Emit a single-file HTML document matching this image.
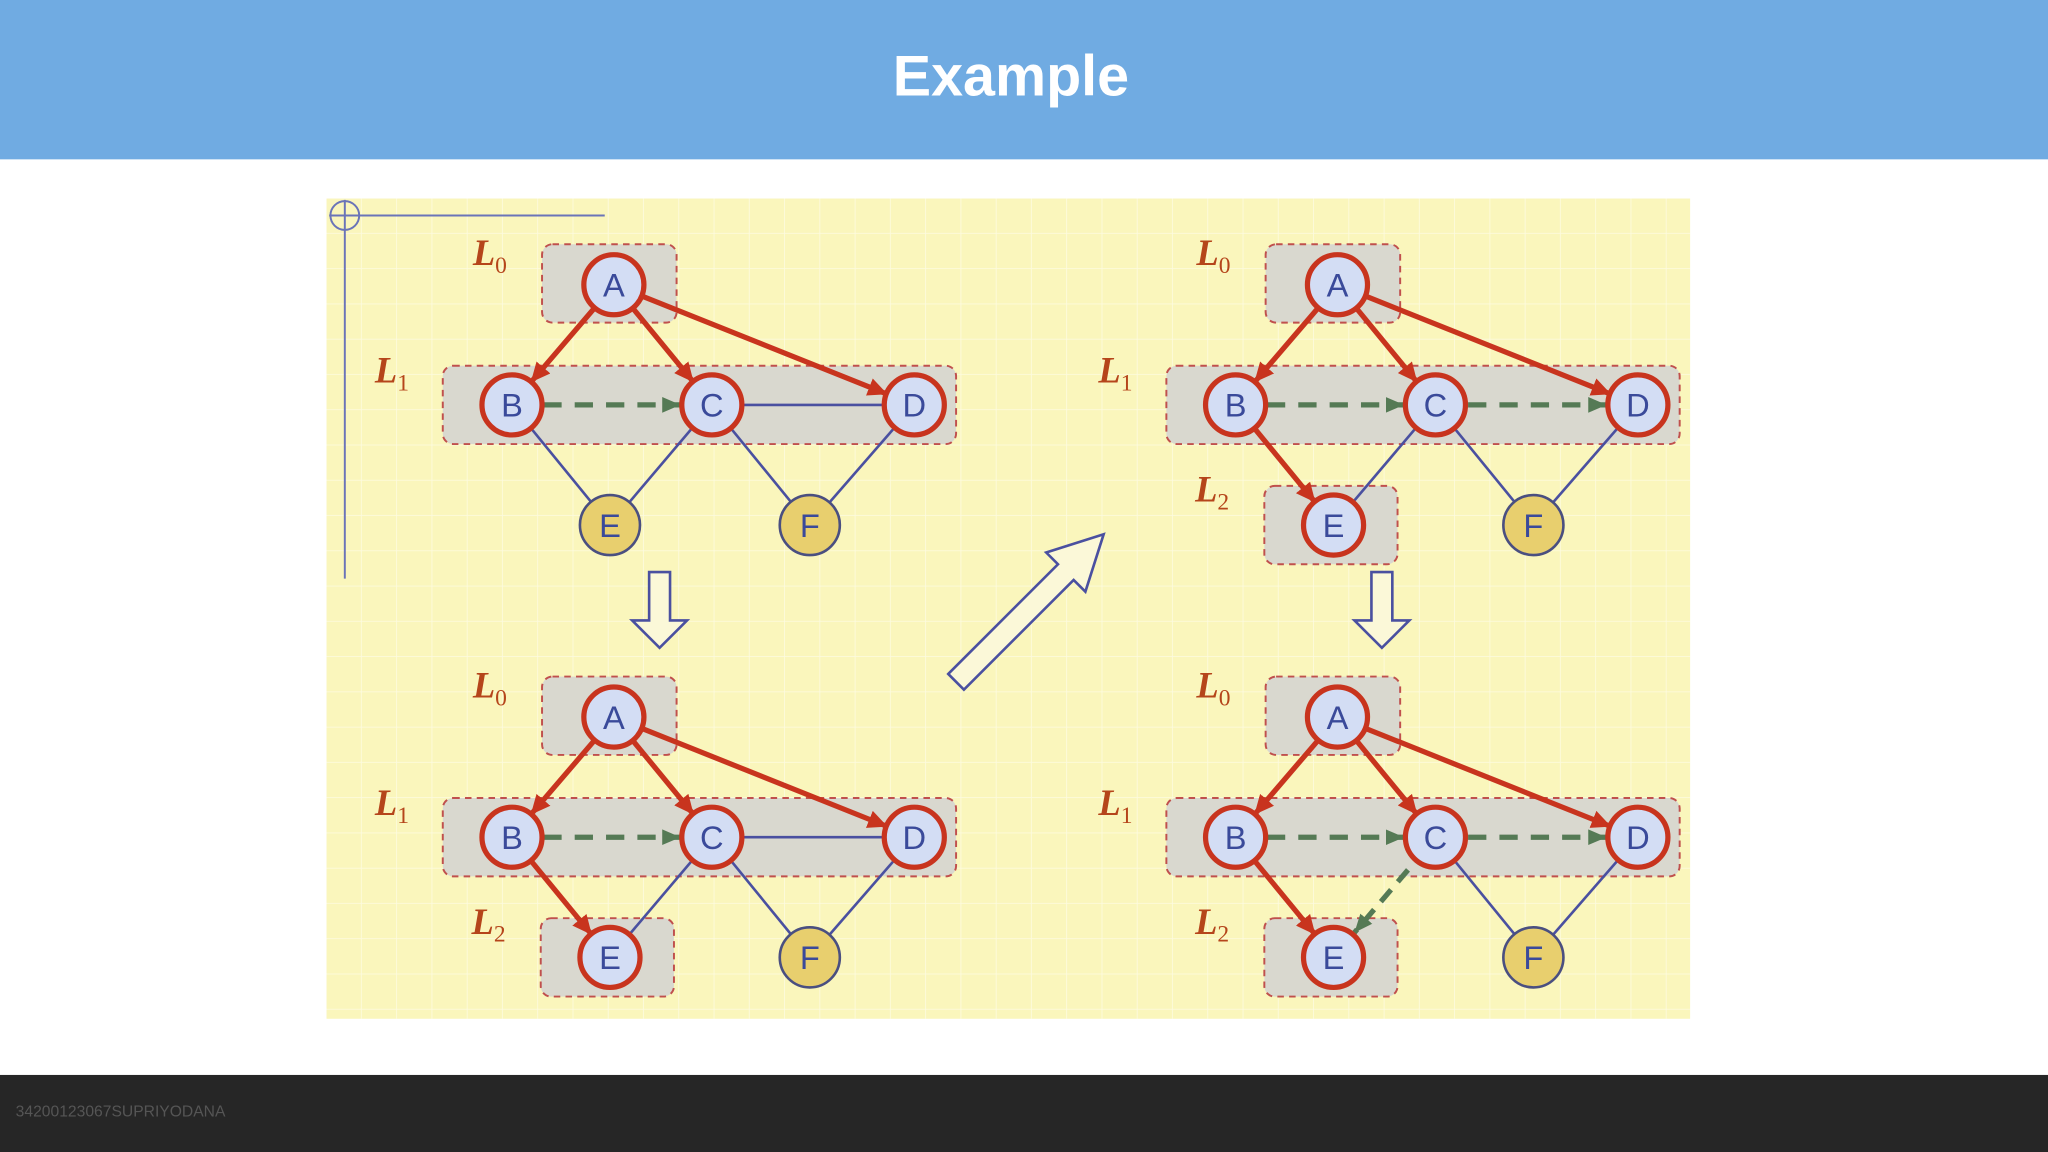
<!DOCTYPE html>
<html><head><meta charset="utf-8"><style>
html,body{margin:0;padding:0;width:2048px;height:1152px;overflow:hidden;background:#fff}
svg{display:block}
</style></head><body>
<svg width="2048" height="1152" viewBox="0 0 1568 882" xmlns="http://www.w3.org/2000/svg">
<defs>
<marker id="ar" markerUnits="userSpaceOnUse" markerWidth="16" markerHeight="14" refX="14" refY="7" orient="auto"><path d="M0,0 L15,7 L0,14 Z" fill="#C8341E"/></marker>
<marker id="ag" markerUnits="userSpaceOnUse" markerWidth="16" markerHeight="14" refX="14" refY="7" orient="auto"><path d="M0,1 L14,7 L0,13 Z" fill="#557a55"/></marker>
<pattern id="grid" x="250" y="152" width="27" height="27" patternUnits="userSpaceOnUse"><path d="M27,0 V27 M0,27 H27" stroke="#ffffff" stroke-opacity="0.55" stroke-width="1.2" fill="none"/></pattern>
<g id="n"><circle r="23" fill="#D3DDF4" stroke="#C8341E" stroke-width="4"/></g>
<g id="y"><circle r="23" fill="#E8CF6E" stroke="#4a4f80" stroke-width="2"/></g>
</defs>
<rect x="0" y="0" width="1568" height="122" fill="#70ABE2"/>
<text x="774" y="73" text-anchor="middle" font-family="Liberation Sans, sans-serif" font-weight="bold" font-size="44" fill="#fff">Example</text>
<rect x="0" y="823" width="1568" height="59" fill="#262626"/>
<text x="12" y="855" font-family="Liberation Sans, sans-serif" font-size="12" fill="#555">34200123067SUPRIYODANA</text>

<rect x="250" y="152" width="1044" height="628" fill="#FAF6BC"/>
<rect x="250" y="152" width="1044" height="628" fill="url(#grid)"/>
<g stroke="#6a74b8" stroke-width="1.5" fill="none"><circle cx="264" cy="165" r="11"/><line x1="252" y1="165" x2="463" y2="165"/><line x1="264" y1="153" x2="264" y2="443"/></g>

<g font-family="Liberation Sans, sans-serif" font-size="25" fill="#3A4A9A" text-anchor="middle">
<g id="p1">
<rect x="415" y="187" width="103" height="60" rx="8" fill="#d9d8cf" stroke="#C0504D" stroke-width="1.5" stroke-dasharray="5,4"/>
<rect x="339" y="280" width="393" height="60" rx="8" fill="#d9d8cf" stroke="#C0504D" stroke-width="1.5" stroke-dasharray="5,4"/>
<text x="362" y="203" font-family="Liberation Serif, serif" font-weight="bold" font-style="italic" font-size="28" fill="#B5451B" text-anchor="start">L<tspan font-size="18" font-weight="normal" font-style="normal" dy="6">0</tspan></text>
<text x="287" y="293" font-family="Liberation Serif, serif" font-weight="bold" font-style="italic" font-size="28" fill="#B5451B" text-anchor="start">L<tspan font-size="18" font-weight="normal" font-style="normal" dy="6">1</tspan></text>
<g stroke="#4a50a0" stroke-width="2"><line x1="392" y1="310" x2="467" y2="402"/><line x1="545" y1="310" x2="620" y2="402"/><line x1="700" y1="310" x2="620" y2="402"/></g>
</g>
<g stroke="#4a50a0" stroke-width="2"><line x1="545" y1="310" x2="700" y2="310"/><line x1="545" y1="310" x2="467" y2="402"/></g>
<g id="reds"><g stroke="#C8341E" stroke-width="4" fill="none"><line x1="455" y1="236" x2="407" y2="292" marker-end="url(#ar)"/><line x1="484.5" y1="236" x2="530.5" y2="292" marker-end="url(#ar)"/><line x1="491" y1="226.5" x2="678.6" y2="301.5" marker-end="url(#ar)"/></g>
<line x1="416" y1="310" x2="521" y2="310" stroke="#557a55" stroke-width="4" stroke-dasharray="14,10" marker-end="url(#ag)"/></g>

<g transform="translate(554,0)">
<use href="#p1"/>
<rect x="414" y="372" width="102" height="60" rx="8" fill="#d9d8cf" stroke="#C0504D" stroke-width="1.5" stroke-dasharray="5,4"/>
<text x="361" y="384" font-family="Liberation Serif, serif" font-weight="bold" font-style="italic" font-size="28" fill="#B5451B" text-anchor="start">L<tspan font-size="18" font-weight="normal" font-style="normal" dy="6">2</tspan></text>
<line x1="545" y1="310" x2="467" y2="402" stroke="#4a50a0" stroke-width="2"/>
<use href="#reds"/>
<line x1="570" y1="310" x2="676" y2="310" stroke="#557a55" stroke-width="4" stroke-dasharray="14,10" marker-end="url(#ag)"/>
<line x1="406.5" y1="328" x2="452.5" y2="384" stroke="#C8341E" stroke-width="4" marker-end="url(#ar)"/>
</g>
<g transform="translate(0,331)">
<use href="#p1"/>
<rect x="414" y="372" width="102" height="60" rx="8" fill="#d9d8cf" stroke="#C0504D" stroke-width="1.5" stroke-dasharray="5,4"/>
<text x="361" y="384" font-family="Liberation Serif, serif" font-weight="bold" font-style="italic" font-size="28" fill="#B5451B" text-anchor="start">L<tspan font-size="18" font-weight="normal" font-style="normal" dy="6">2</tspan></text>
<g stroke="#4a50a0" stroke-width="2"><line x1="545" y1="310" x2="467" y2="402"/><line x1="545" y1="310" x2="700" y2="310"/></g>
<use href="#reds"/>
<line x1="406.5" y1="328" x2="452.5" y2="384" stroke="#C8341E" stroke-width="4" marker-end="url(#ar)"/>
</g>
<g transform="translate(554,331)">
<use href="#p1"/>
<rect x="414" y="372" width="102" height="60" rx="8" fill="#d9d8cf" stroke="#C0504D" stroke-width="1.5" stroke-dasharray="5,4"/>
<text x="361" y="384" font-family="Liberation Serif, serif" font-weight="bold" font-style="italic" font-size="28" fill="#B5451B" text-anchor="start">L<tspan font-size="18" font-weight="normal" font-style="normal" dy="6">2</tspan></text>
<use href="#reds"/>
<line x1="570" y1="310" x2="676" y2="310" stroke="#557a55" stroke-width="4" stroke-dasharray="14,10" marker-end="url(#ag)"/>
<line x1="406.5" y1="328" x2="452.5" y2="384" stroke="#C8341E" stroke-width="4" marker-end="url(#ar)"/>
<line x1="524" y1="335" x2="483" y2="383" stroke="#557a55" stroke-width="4" stroke-dasharray="12,8" marker-end="url(#ag)"/>
</g>

<g id="nodesA">
<use href="#n" x="470" y="218"/><text x="470" y="227">A</text>
<use href="#n" x="392" y="310"/><text x="392" y="319">B</text>
<use href="#n" x="545" y="310"/><text x="545" y="319">C</text>
<use href="#n" x="700" y="310"/><text x="700" y="319">D</text>
<use href="#y" x="620" y="402"/><text x="620" y="411">F</text>
</g>
<use href="#y" x="467" y="402"/><text x="467" y="411">E</text>
<g transform="translate(554,0)"><use href="#nodesA"/><use href="#n" x="467" y="402"/><text x="467" y="411">E</text></g>
<g transform="translate(0,331)"><use href="#nodesA"/><use href="#n" x="467" y="402"/><text x="467" y="411">E</text></g>
<g transform="translate(554,331)"><use href="#nodesA"/><use href="#n" x="467" y="402"/><text x="467" y="411">E</text></g>
</g>

<g fill="#fbf8d8" stroke="#4a50a0" stroke-width="2" stroke-linejoin="miter">
<path d="M497,438 H513 V475 H526 L505,496 L484,475 H497 Z"/>
<path d="M1050,438 H1066 V475 H1079 L1058,496 L1037,475 H1050 Z"/>
<path d="M726,516 L810,432 L801,423 L845,409 L831,453 L822,444 L738,528 Z"/>
</g>
</svg>
</body></html>
